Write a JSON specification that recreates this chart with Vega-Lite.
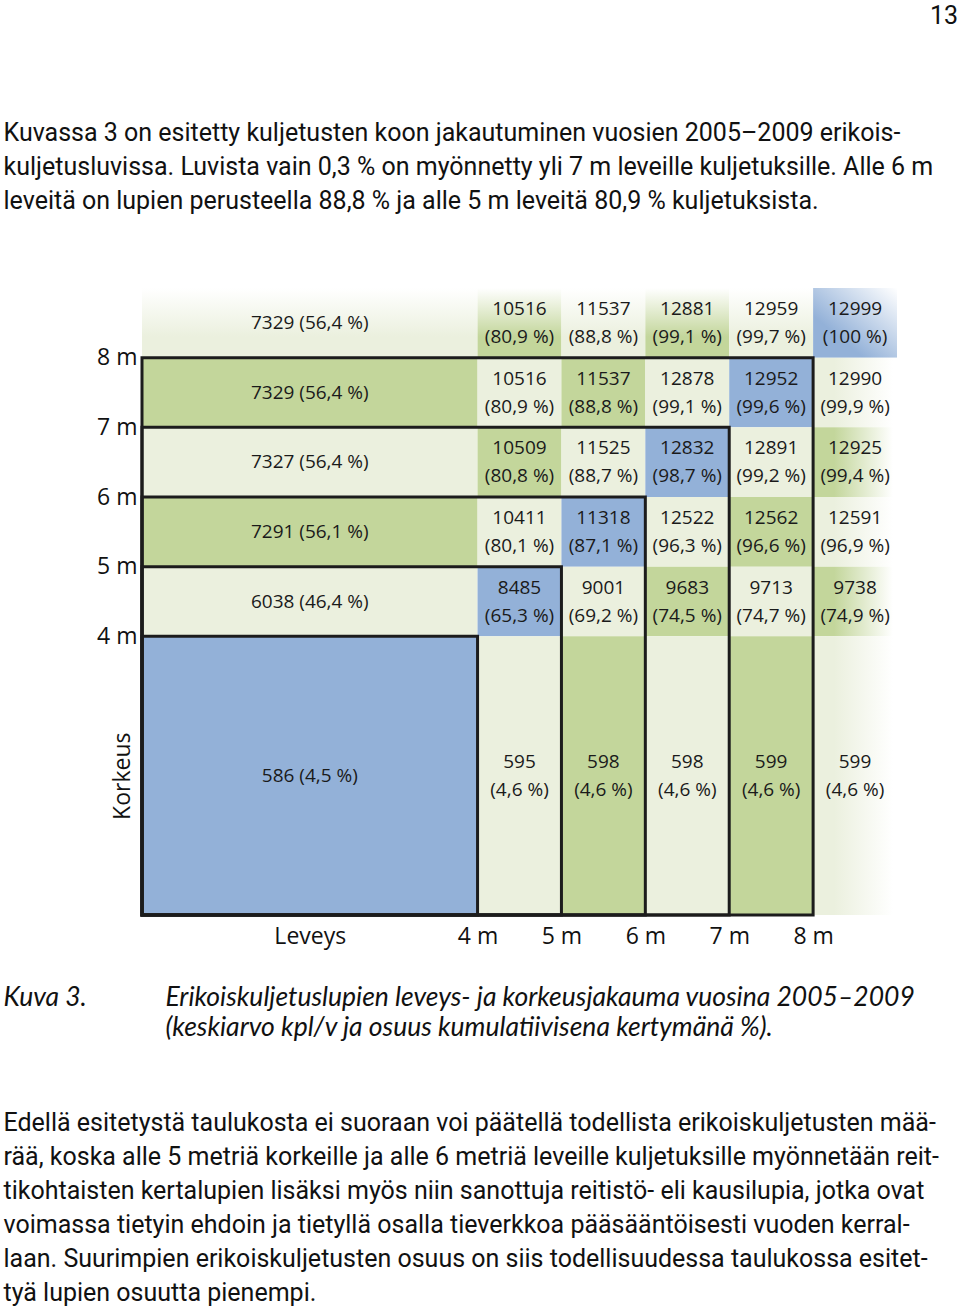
{
  "$schema": "https://vega.github.io/schema/vega-lite/v6.json",
  "width": 755,
  "height": 627,
  "autosize": {"type": "none"},
  "padding": {"left": 142, "top": 288, "right": 63, "bottom": 391},
  "background": "white",
  "title": {"text": "13", "anchor": "end", "frame": "group", "dx": 61, "offset": 92, "font": "Roboto", "fontSize": 25, "fontWeight": "normal", "color": "#111111"},
  "data": {"values": [
    {"w0": 0, "w1": 4, "h0": 8, "h1": 9, "n": 7329, "pct": 56.4},
    {"w0": 4, "w1": 5, "h0": 8, "h1": 9, "n": 10516, "pct": 80.9},
    {"w0": 5, "w1": 6, "h0": 8, "h1": 9, "n": 11537, "pct": 88.8},
    {"w0": 6, "w1": 7, "h0": 8, "h1": 9, "n": 12881, "pct": 99.1},
    {"w0": 7, "w1": 8, "h0": 8, "h1": 9, "n": 12959, "pct": 99.7},
    {"w0": 8, "w1": 9, "h0": 8, "h1": 9, "n": 12999, "pct": 100},
    {"w0": 0, "w1": 4, "h0": 7, "h1": 8, "n": 7329, "pct": 56.4},
    {"w0": 4, "w1": 5, "h0": 7, "h1": 8, "n": 10516, "pct": 80.9},
    {"w0": 5, "w1": 6, "h0": 7, "h1": 8, "n": 11537, "pct": 88.8},
    {"w0": 6, "w1": 7, "h0": 7, "h1": 8, "n": 12878, "pct": 99.1},
    {"w0": 7, "w1": 8, "h0": 7, "h1": 8, "n": 12952, "pct": 99.6},
    {"w0": 8, "w1": 9, "h0": 7, "h1": 8, "n": 12990, "pct": 99.9},
    {"w0": 0, "w1": 4, "h0": 6, "h1": 7, "n": 7327, "pct": 56.4},
    {"w0": 4, "w1": 5, "h0": 6, "h1": 7, "n": 10509, "pct": 80.8},
    {"w0": 5, "w1": 6, "h0": 6, "h1": 7, "n": 11525, "pct": 88.7},
    {"w0": 6, "w1": 7, "h0": 6, "h1": 7, "n": 12832, "pct": 98.7},
    {"w0": 7, "w1": 8, "h0": 6, "h1": 7, "n": 12891, "pct": 99.2},
    {"w0": 8, "w1": 9, "h0": 6, "h1": 7, "n": 12925, "pct": 99.4},
    {"w0": 0, "w1": 4, "h0": 5, "h1": 6, "n": 7291, "pct": 56.1},
    {"w0": 4, "w1": 5, "h0": 5, "h1": 6, "n": 10411, "pct": 80.1},
    {"w0": 5, "w1": 6, "h0": 5, "h1": 6, "n": 11318, "pct": 87.1},
    {"w0": 6, "w1": 7, "h0": 5, "h1": 6, "n": 12522, "pct": 96.3},
    {"w0": 7, "w1": 8, "h0": 5, "h1": 6, "n": 12562, "pct": 96.6},
    {"w0": 8, "w1": 9, "h0": 5, "h1": 6, "n": 12591, "pct": 96.9},
    {"w0": 0, "w1": 4, "h0": 4, "h1": 5, "n": 6038, "pct": 46.4},
    {"w0": 4, "w1": 5, "h0": 4, "h1": 5, "n": 8485, "pct": 65.3},
    {"w0": 5, "w1": 6, "h0": 4, "h1": 5, "n": 9001, "pct": 69.2},
    {"w0": 6, "w1": 7, "h0": 4, "h1": 5, "n": 9683, "pct": 74.5},
    {"w0": 7, "w1": 8, "h0": 4, "h1": 5, "n": 9713, "pct": 74.7},
    {"w0": 8, "w1": 9, "h0": 4, "h1": 5, "n": 9738, "pct": 74.9},
    {"w0": 0, "w1": 4, "h0": 0, "h1": 4, "n": 586, "pct": 4.5},
    {"w0": 4, "w1": 5, "h0": 0, "h1": 4, "n": 595, "pct": 4.6},
    {"w0": 5, "w1": 6, "h0": 0, "h1": 4, "n": 598, "pct": 4.6},
    {"w0": 6, "w1": 7, "h0": 0, "h1": 4, "n": 598, "pct": 4.6},
    {"w0": 7, "w1": 8, "h0": 0, "h1": 4, "n": 599, "pct": 4.6},
    {"w0": 8, "w1": 9, "h0": 0, "h1": 4, "n": 599, "pct": 4.6}
  ]},
  "transform": [
    {"calculate": "(datum.w0 + datum.w1) / 2", "as": "xm"},
    {"calculate": "(datum.h0 + datum.h1) / 2", "as": "ym"},
    {"calculate": "datum.w0 == 0 ? 3 : datum.w0", "as": "wi"},
    {"calculate": "datum.h0 == 0 ? 3 : datum.h0", "as": "hi"},
    {"calculate": "abs(datum.wi - datum.hi)", "as": "d"},
    {"calculate": "datum.d == 0 ? 'B' : (datum.d % 2 == 1 ? 'E' : 'G')", "as": "tone"},
    {"calculate": "datum.w0 == 8 && datum.h0 == 8 ? 'both' : (datum.h0 == 8 ? 'h' : (datum.w0 == 8 ? 'w' : 'none'))", "as": "open"},
    {"calculate": "datum.pct == 100 ? '100' : replace(format(datum.pct, '.1f'), '.', ',')", "as": "ps"},
    {"calculate": "datum.w0 == 0 ? datum.n + ' (' + datum.ps + ' %)' : datum.n + '\\n(' + datum.ps + ' %)'", "as": "label"}
  ],
  "layer": [
    {
      "mark": {"type": "rect"},
      "encoding": {
        "x": {"field": "w0", "type": "quantitative", "scale": {"domain": [0, 9], "nice": false, "zero": false},
          "axis": {"orient": "bottom", "values": [2, 4, 5, 6, 7, 8], "labelExpr": "datum.value == 2 ? 'Leveys' : datum.value + ' m'",
            "labelFont": "Open Sans", "labelFontSize": 23, "labelColor": "#111111", "labelPadding": 10, "tickSize": 0,
            "title": "Kuva 3.", "titleX": -139, "titleY": 69.5, "titleAlign": "left", "titleBaseline": "top", "titleAngle": 0, "titleFont": "Lato", "titleFontStyle": "italic", "titleFontWeight": "normal", "titleFontSize": 26.5, "titleColor": "#111111"}},
        "x2": {"field": "w1"},
        "y": {"field": "h0", "type": "quantitative", "scale": {"domain": [0, 9], "nice": false, "zero": false},
          "axis": {"orient": "left", "values": [4, 5, 6, 7, 8], "labelExpr": "datum.value + ' m'",
            "labelFont": "Open Sans", "labelFontSize": 23, "labelColor": "#111111", "labelPadding": 5, "tickSize": 0,
            "title": "Korkeus", "titleX": -8, "titleY": 487.7, "titleAngle": 270, "titleAlign": "center", "titleBaseline": "bottom",
            "titleFont": "Open Sans", "titleFontSize": 23, "titleFontWeight": "normal", "titleColor": "#111111"}},
        "y2": {"field": "h1"},
        "fill": {
          "condition": [
            {"test": "datum.open == 'both'", "value": {"gradient": "linear", "x1": 0, "y1": 1, "x2": 1, "y2": 0, "stops": [{"offset": 0, "color": "#93b1d8"}, {"offset": 0.3, "color": "#93b1d8"}, {"offset": 1, "color": "#ffffff"}]}},
            {"test": "datum.open == 'h' && datum.tone == 'G'", "value": {"gradient": "linear", "x1": 0, "y1": 1, "x2": 0, "y2": 0, "stops": [{"offset": 0, "color": "#c3d69b"}, {"offset": 0.3, "color": "#c3d69b"}, {"offset": 1, "color": "#ffffff"}]}},
            {"test": "datum.open == 'h' && datum.tone == 'E'", "value": {"gradient": "linear", "x1": 0, "y1": 1, "x2": 0, "y2": 0, "stops": [{"offset": 0, "color": "#ebf0de"}, {"offset": 0.3, "color": "#ebf0de"}, {"offset": 1, "color": "#ffffff"}]}},
            {"test": "datum.open == 'w' && datum.tone == 'G'", "value": {"gradient": "linear", "x1": 0, "y1": 0, "x2": 1, "y2": 0, "stops": [{"offset": 0, "color": "#c3d69b"}, {"offset": 0.25, "color": "#c3d69b"}, {"offset": 0.95, "color": "#ffffff"}]}},
            {"test": "datum.open == 'w' && datum.tone == 'E'", "value": {"gradient": "linear", "x1": 0, "y1": 0, "x2": 1, "y2": 0, "stops": [{"offset": 0, "color": "#ebf0de"}, {"offset": 0.25, "color": "#ebf0de"}, {"offset": 0.95, "color": "#ffffff"}]}}
          ],
          "field": "tone", "type": "nominal",
          "scale": {"domain": ["B", "E", "G"], "range": ["#93b1d8", "#ebf0de", "#c3d69b"]},
          "legend": null
        }
      }
    },
    {
      "data": {"values": [{"k": 4}, {"k": 5}, {"k": 6}, {"k": 7}, {"k": 8}]},
      "mark": {"type": "rect", "fill": "transparent", "stroke": "#1c1c1c", "strokeWidth": 3},
      "encoding": {
        "x": {"field": "k", "type": "quantitative", "scale": {"domain": [0, 9], "nice": false, "zero": false},
          "axis": {"orient": "top", "labels": false, "tickSize": 0,
            "title": ["Kuvassa 3 on esitetty kuljetusten koon jakautuminen vuosien 2005–2009 erikois-", "kuljetusluvissa. Luvista vain 0,3 % on myönnetty yli 7 m leveille kuljetuksille. Alle 6 m", "leveitä on lupien perusteella 88,8 % ja alle 5 m leveitä 80,9 % kuljetuksista."],
            "titleX": -139, "titleY": -167.5, "titleAlign": "left", "titleBaseline": "top", "titleAngle": 0, "titleFont": "Roboto", "titleFontSize": 25, "titleFontWeight": "normal", "titleLineHeight": 34, "titleColor": "#111111"}},
        "x2": {"datum": 0},
        "y": {"field": "k", "type": "quantitative", "scale": {"domain": [0, 9], "nice": false, "zero": false}, "axis": null},
        "y2": {"datum": 0}
      }
    },
    {
      "transform": [{"filter": "datum.w0 == 0"}],
      "mark": {"type": "text", "align": "center", "baseline": "middle", "font": "Open Sans", "fontSize": 19, "color": "#1a1a1a"},
      "encoding": {
        "x": {"field": "xm", "type": "quantitative", "scale": {"domain": [0, 9], "nice": false, "zero": false},
          "axis": {"orient": "bottom", "labels": false, "tickSize": 0,
            "title": ["Erikoiskuljetuslupien leveys- ja korkeusjakauma vuosina 2005–2009", "(keskiarvo kpl/v ja osuus kumulatiivisena kertymänä %)."],
            "titleX": 23, "titleY": 69.5, "titleAlign": "left", "titleBaseline": "top", "titleAngle": 0, "titleFont": "Lato", "titleFontStyle": "italic", "titleFontWeight": "normal", "titleFontSize": 26.5, "titleLineHeight": 30, "titleColor": "#111111"}},
        "y": {"field": "ym", "type": "quantitative", "scale": {"domain": [0, 9], "nice": false, "zero": false}, "axis": null},
        "text": {"field": "label"}
      }
    },
    {
      "transform": [{"filter": "datum.w0 > 0"}],
      "mark": {"type": "text", "align": "center", "baseline": "middle", "font": "Open Sans", "fontSize": 19, "lineHeight": 28, "lineBreak": "\n", "dy": -14, "color": "#1a1a1a"},
      "encoding": {
        "x": {"field": "xm", "type": "quantitative", "scale": {"domain": [0, 9], "nice": false, "zero": false},
          "axis": {"orient": "bottom", "labels": false, "tickSize": 0,
            "title": ["Edellä esitetystä taulukosta ei suoraan voi päätellä todellista erikoiskuljetusten mää-", "rää, koska alle 5 metriä korkeille ja alle 6 metriä leveille kuljetuksille myönnetään reit-", "tikohtaisten kertalupien lisäksi myös niin sanottuja reitistö- eli kausilupia, jotka ovat", "voimassa tietyin ehdoin ja tietyllä osalla tieverkkoa pääsääntöisesti vuoden kerral-", "laan. Suurimpien erikoiskuljetusten osuus on siis todellisuudessa taulukossa esitet-", "tyä lupien osuutta pienempi."],
            "titleX": -139, "titleY": 195.5, "titleAlign": "left", "titleBaseline": "top", "titleAngle": 0, "titleFont": "Roboto", "titleFontSize": 25, "titleFontWeight": "normal", "titleLineHeight": 34, "titleColor": "#111111"}},
        "y": {"field": "ym", "type": "quantitative", "scale": {"domain": [0, 9], "nice": false, "zero": false}, "axis": null},
        "text": {"field": "label"}
      }
    }
  ],
  "resolve": {"axis": {"x": "independent", "y": "independent"}},
  "config": {
    "view": {"stroke": null},
    "axis": {"grid": false, "ticks": false, "domain": false, "labelFlush": false, "labelOverlap": false, "labelBound": false}
  }
}
